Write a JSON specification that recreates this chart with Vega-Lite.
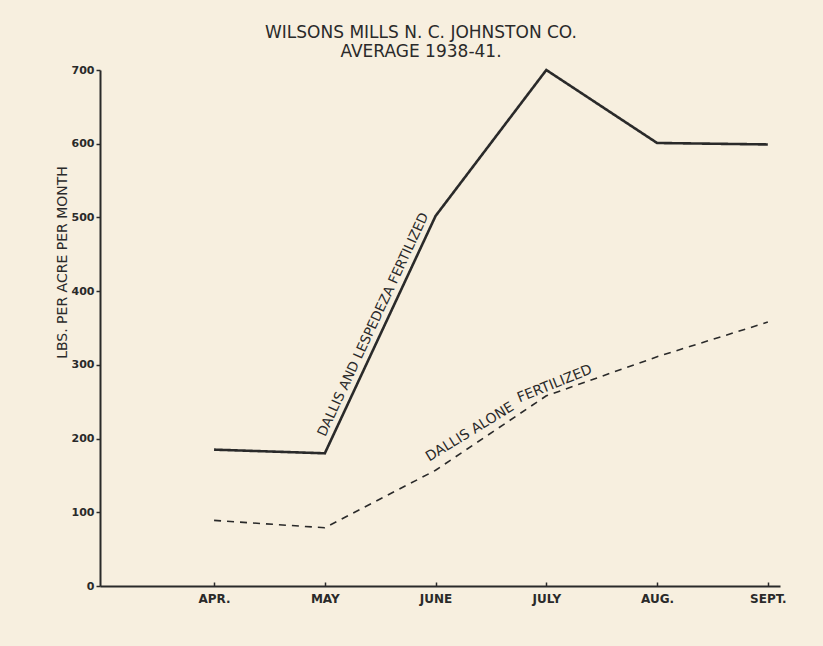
{
  "$schema": "https://vega.github.io/schema/vega-lite/v6.json",
  "width": 680,
  "height": 516,
  "autosize": {"type": "none"},
  "padding": {"left": 100, "top": 70, "right": 43, "bottom": 60},
  "background": "#f7efdf",
  "title": {
    "text": ["WILSONS MILLS N. C. JOHNSTON CO.", "AVERAGE 1938-41."],
    "font": "DejaVu Sans",
    "fontSize": 17,
    "fontWeight": "normal",
    "color": "#2a2a2a",
    "anchor": "middle",
    "dx": -19,
    "offset": 3,
    "lineHeight": 19
  },
  "config": {
    "view": {"stroke": null},
    "axis": {
      "domainColor": "#2a2a2a",
      "domainWidth": 2,
      "tickColor": "#2a2a2a",
      "tickWidth": 1.5,
      "labelColor": "#2a2a2a",
      "titleColor": "#2a2a2a",
      "labelFont": "DejaVu Sans",
      "titleFont": "DejaVu Sans",
      "grid": false
    }
  },
  "datasets": {
    "pasture": [
      {"m": 1, "month": "APR.", "series": "Dallis and Lespedeza fertilized", "lbs": 185},
      {"m": 2, "month": "MAY", "series": "Dallis and Lespedeza fertilized", "lbs": 180},
      {"m": 3, "month": "JUNE", "series": "Dallis and Lespedeza fertilized", "lbs": 502},
      {"m": 4, "month": "JULY", "series": "Dallis and Lespedeza fertilized", "lbs": 700},
      {"m": 5, "month": "AUG.", "series": "Dallis and Lespedeza fertilized", "lbs": 601},
      {"m": 6, "month": "SEPT.", "series": "Dallis and Lespedeza fertilized", "lbs": 599},
      {"m": 1, "month": "APR.", "series": "Dallis alone fertilized", "lbs": 89},
      {"m": 2, "month": "MAY", "series": "Dallis alone fertilized", "lbs": 79},
      {"m": 3, "month": "JUNE", "series": "Dallis alone fertilized", "lbs": 157},
      {"m": 4, "month": "JULY", "series": "Dallis alone fertilized", "lbs": 258},
      {"m": 5, "month": "AUG.", "series": "Dallis alone fertilized", "lbs": 311},
      {"m": 6, "month": "SEPT.", "series": "Dallis alone fertilized", "lbs": 358}
    ],
    "labels": [
      {"part": "a", "m": 2.52, "lbs": 349, "label": "DALLIS AND LESPEDEZA FERTILIZED"},
      {"part": "b", "m": 3.33, "lbs": 204, "label": "DALLIS ALONE"},
      {"part": "c", "m": 4.09, "lbs": 269, "label": "FERTILIZED"}
    ]
  },
  "layer": [
    {
      "data": {"name": "pasture"},
      "mark": {"type": "line", "color": "#2a2a2a"},
      "encoding": {
        "x": {
          "field": "m",
          "type": "quantitative",
          "scale": {"domain": [-0.03, 6.11], "nice": false, "zero": false},
          "axis": {
            "title": null,
            "values": [1, 2, 3, 4, 5, 6],
            "labelExpr": "['', 'APR.', 'MAY', 'JUNE', 'JULY', 'AUG.', 'SEPT.'][datum.value]",
            "tickSize": -4,
            "labelPadding": 11,
            "labelFontSize": 12,
            "labelFontWeight": "bold"
          }
        },
        "y": {
          "field": "lbs",
          "type": "quantitative",
          "scale": {"domain": [0, 700], "nice": false},
          "axis": {
            "title": "LBS. PER ACRE PER MONTH",
            "values": [0, 100, 200, 300, 400, 500, 600, 700],
            "tickSize": 4,
            "labelPadding": 2,
            "labelFontSize": 11,
            "labelFontWeight": "bold",
            "titleFontSize": 14,
            "titleFontWeight": "normal",
            "titleAngle": -90,
            "titleX": -38,
            "titleY": 192,
            "titleAlign": "center",
            "titleBaseline": "middle"
          }
        },
        "detail": {"field": "series"},
        "strokeDash": {
          "field": "series",
          "type": "nominal",
          "scale": {"domain": ["Dallis and Lespedeza fertilized", "Dallis alone fertilized"], "range": [[1, 0], [7, 6]]},
          "legend": null
        },
        "strokeWidth": {
          "field": "series",
          "type": "nominal",
          "scale": {"domain": ["Dallis and Lespedeza fertilized", "Dallis alone fertilized"], "range": [2.6, 1.6]},
          "legend": null
        }
      }
    },
    {
      "data": {"name": "labels"},
      "transform": [{"filter": "datum.part == 'a'"}],
      "mark": {"type": "text", "angle": -65, "font": "DejaVu Sans", "fontSize": 13.5, "color": "#2a2a2a", "align": "center", "baseline": "bottom", "dy": -3},
      "encoding": {
        "x": {"field": "m", "type": "quantitative"},
        "y": {"field": "lbs", "type": "quantitative"},
        "text": {"field": "label"}
      }
    },
    {
      "data": {"name": "labels"},
      "transform": [{"filter": "datum.part == 'b'"}],
      "mark": {"type": "text", "angle": -31.5, "font": "DejaVu Sans", "fontSize": 14, "color": "#2a2a2a", "align": "center", "baseline": "alphabetic"},
      "encoding": {
        "x": {"field": "m", "type": "quantitative"},
        "y": {"field": "lbs", "type": "quantitative"},
        "text": {"field": "label"}
      }
    },
    {
      "data": {"name": "labels"},
      "transform": [{"filter": "datum.part == 'c'"}],
      "mark": {"type": "text", "angle": -22, "font": "DejaVu Sans", "fontSize": 14, "color": "#2a2a2a", "align": "center", "baseline": "alphabetic"},
      "encoding": {
        "x": {"field": "m", "type": "quantitative"},
        "y": {"field": "lbs", "type": "quantitative"},
        "text": {"field": "label"}
      }
    }
  ]
}
